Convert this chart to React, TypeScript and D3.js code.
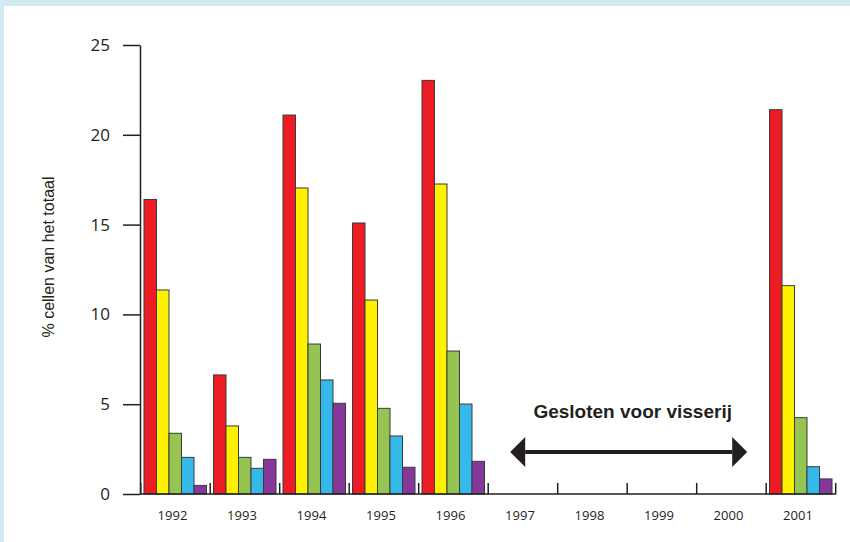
import * as d3 from "d3";
import { useEffect, useRef } from "react";

// years on the x axis (1997-2000: closed, no data)
const years = ["1992", "1993", "1994", "1995", "1996", "1997", "1998", "1999", "2000", "2001"];
const classes = ["c1", "c2", "c3", "c4", "c5"];
const colors = ["#ed1c24", "#fff200", "#95c452", "#35b8ea", "#86379a"];

// % cells per class, per year
const values: Record<string, number[]> = {
  "1992": [16.4, 11.36, 3.38, 2.04, 0.48],
  "1993": [6.63, 3.79, 2.04, 1.43, 1.93],
  "1994": [21.1, 17.04, 8.35, 6.35, 5.05],
  "1995": [15.09, 10.8, 4.77, 3.23, 1.49],
  "1996": [23.03, 17.26, 7.96, 5.01, 1.82],
  "2001": [21.4, 11.6, 4.25, 1.52, 0.84],
};
const yTicks = [0, 5, 10, 15, 20, 25];
const closedFrom = "1997";
const closedTo = "2000";
const closedLabel = "Gesloten voor visserij";
const yLabel = "% cellen van het totaal";

export default function App() {
  const svgRef = useRef<SVGSVGElement>(null);

  useEffect(() => {
    if (!svgRef.current) return;
    const W = 850;
    const H = 542;
    const svg = d3.select(svgRef.current);
    svg.selectAll("*").remove();

    // light blue frame
    svg.append("rect").attr("width", W).attr("height", H).attr("fill", "#d3eaf3");
    svg.append("rect").attr("x", 4).attr("y", 6).attr("width", W - 4).attr("height", H - 6).attr("fill", "#fff");

    const x = d3.scaleBand().domain(years).range([140.7, 835.7]);
    const y = d3.scaleLinear().domain([0, 25]).range([494, 45]);
    const inner = d3
      .scaleBand()
      .domain(classes)
      .range([3.3, x.bandwidth() - 3.7]);

    const ink = "#231f20";

    // bars
    const bars = svg.append("g");
    Object.entries(values).forEach(([yr, vals]) => {
      bars
        .selectAll(null)
        .data(vals)
        .enter()
        .append("rect")
        .attr("x", (_, i) => (x(yr) ?? 0) + (inner(classes[i]) ?? 0))
        .attr("y", (d) => y(d))
        .attr("width", inner.bandwidth())
        .attr("height", (d) => y(0) - y(d))
        .attr("fill", (_, i) => colors[i])
        .attr("stroke", "#3a3a3a")
        .attr("stroke-width", 1);
    });

    // y axis
    const yAxis = svg
      .append("g")
      .attr("transform", "translate(140,0)")
      .call(d3.axisLeft(y).tickValues(yTicks).tickSize(17).tickPadding(13).tickSizeOuter(0));
    yAxis.select(".domain").attr("stroke", ink).attr("stroke-width", 1.5);
    yAxis.selectAll(".tick line").attr("stroke", ink).attr("stroke-width", 1.5);
    yAxis
      .selectAll(".tick text")
      .attr("fill", ink)
      .attr("font-size", 17)
      .attr("font-family", "'Open Sans', sans-serif");

    // x baseline with separators
    svg
      .append("line")
      .attr("x1", 140)
      .attr("x2", 836)
      .attr("y1", y(0))
      .attr("y2", y(0))
      .attr("stroke", ink)
      .attr("stroke-width", 1.5);
    const seps = years.map((d) => x(d) ?? 0).concat([x.range()[1]]);
    svg
      .append("g")
      .selectAll("line")
      .data(seps)
      .enter()
      .append("line")
      .attr("x1", (d) => d)
      .attr("x2", (d) => d)
      .attr("y1", y(0))
      .attr("y2", y(0) - 11)
      .attr("stroke", ink)
      .attr("stroke-width", 1.5);
    svg
      .append("g")
      .selectAll("text")
      .data(years)
      .enter()
      .append("text")
      .attr("x", (d) => (x(d) ?? 0) + x.bandwidth() / 2 - 3)
      .attr("y", 520)
      .attr("text-anchor", "middle")
      .attr("fill", ink)
      .attr("font-size", 13)
      .attr("font-family", "'Open Sans', sans-serif")
      .text((d) => d);

    // y label
    svg
      .append("text")
      .attr("transform", `translate(54,${257}) rotate(-90)`)
      .attr("text-anchor", "middle")
      .attr("fill", ink)
      .attr("font-size", 16)
      .attr("font-family", "'Liberation Sans', Arial, sans-serif")
      .text(yLabel);

    // closed period arrow
    const ax0 = (x(closedFrom) ?? 0) + 22;
    const ax1 = (x(closedTo) ?? 0) + x.bandwidth() - 19;
    const ay = 452;
    const head = 15;
    const g = svg.append("g").attr("fill", ink);
    g.append("line")
      .attr("x1", ax0 + head)
      .attr("x2", ax1 - head)
      .attr("y1", ay)
      .attr("y2", ay)
      .attr("stroke", ink)
      .attr("stroke-width", 4);
    g.append("path").attr(
      "d",
      `M${ax0},${ay} L${ax0 + head},${ay - head} L${ax0 + head},${ay + head} Z`
    );
    g.append("path").attr(
      "d",
      `M${ax1},${ay} L${ax1 - head},${ay - head} L${ax1 - head},${ay + head} Z`
    );
    svg
      .append("text")
      .attr("x", (ax0 + ax1) / 2 + 4)
      .attr("y", 418)
      .attr("text-anchor", "middle")
      .attr("fill", ink)
      .attr("font-size", 19)
      .attr("font-weight", "bold")
      .attr("font-family", "'Liberation Sans', Arial, sans-serif")
      .text(closedLabel);
  }, []);

  return (
    <svg
      ref={svgRef}
      width={850}
      height={542}
      style={{ position: "absolute", left: 0, top: 0, display: "block" }}
    />
  );
}
